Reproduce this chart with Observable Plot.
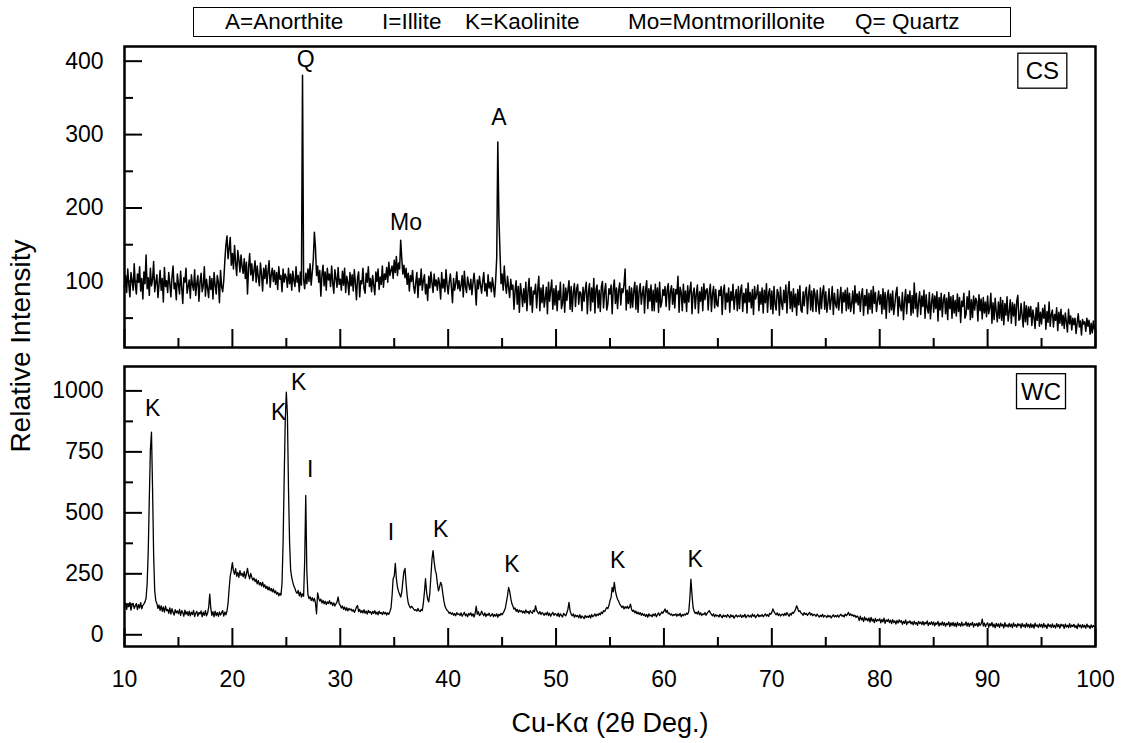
<!DOCTYPE html>
<html>
<head>
<meta charset="utf-8">
<script src="https://cdn.jsdelivr.net/npm/d3@7"></script>
<script src="https://cdn.jsdelivr.net/npm/@observablehq/plot@0.6"></script>
<style>
  body { margin: 0; background: #fff; }
  #page { position: relative; width: 1122px; height: 743px; overflow: hidden; background: #fff;
          font-family: "Liberation Sans", Arial, sans-serif; color: #000; }
  #legend { position: absolute; left: 193px; top: 7px; width: 818px; height: 30px;
            border: 1.5px solid #000; box-sizing: border-box; }
  #legend span { position: absolute; top: 0; line-height: 28px; font-size: 22.5px; white-space: pre; }
  #ytitle { position: absolute; left: 21px; top: 346px; transform: translate(-50%, -50%) rotate(-90deg);
            font-size: 28px; white-space: nowrap; }
  .panel { position: absolute; left: 0; }
  #topPanel { top: 40px; }
  #bottomPanel { top: 352px; }
</style>
</head>
<body>
<div id="page">
  <div id="legend"></div>
  <div id="ytitle"></div>
  <div id="topPanel" class="panel"></div>
  <div id="bottomPanel" class="panel"></div>
</div>
<script>
// ---------------- DATA ----------------
const legendItems = ["A=Anorthite", "I=Illite", "K=Kaolinite", "Mo=Montmorillonite", "Q= Quartz"];
const yTitle = "Relative Intensity";
const xTitle = "Cu-K\u03B1 (2\u03B8 Deg.)";

const xMajorTicks = [10, 20, 30, 40, 50, 60, 70, 80, 90, 100];
const xMinorTicks = [15, 25, 35, 45, 55, 65, 75, 85, 95];
const csYMajor = [100, 200, 300, 400];
const csYMinor = [50, 150, 250, 350];
const wcYMajor = [0, 250, 500, 750, 1000];
const wcYMinor = [125, 375, 625, 875];

const startDeg = 10;   // first row = 10°, each row = 1°, 10 readings per row
const stepDeg = 0.1;

// CS sample: relative intensity, one row per degree (10.0 .. 99.9)
const csRows = [
  [92,108,85,117,96,79,112,101,88,124],
  [95,83,110,99,120,87,104,76,113,97],
  [136,90,105,81,118,94,102,127,86,99],
  [109,78,96,115,88,104,72,119,93,101],
  [85,112,97,79,106,121,90,98,75,110],
  [96,83,114,92,70,105,99,118,84,93],
  [102,77,109,95,88,116,81,97,108,73],
  [99,111,86,94,120,80,103,91,78,107],
  [89,104,76,112,95,83,108,99,71,115],
  [93,86,101,128,150,162,131,145,160,122],
  [138,117,149,125,108,142,130,113,136,120],
  [111,131,104,126,83,119,138,109,124,101],
  [115,128,99,121,106,94,125,110,87,118],
  [104,122,97,113,128,92,109,118,100,115],
  [96,112,89,120,103,108,86,117,99,110],
  [105,92,118,97,110,88,114,101,93,120],
  [99,108,86,113,95,381,102,90,111,97],
  [117,100,124,95,112,130,167,146,108,121],
  [99,115,80,109,122,94,113,88,118,102],
  [110,93,121,98,84,116,104,92,119,96],
  [103,88,114,95,118,85,107,99,82,112],
  [94,109,87,116,98,75,105,113,79,101],
  [97,118,90,84,111,99,120,93,104,86],
  [108,95,82,113,100,117,89,106,96,121],
  [92,110,103,119,99,126,108,115,121,104],
  [129,112,134,108,125,117,156,131,110,122],
  [105,118,96,111,87,108,100,115,93,84],
  [99,112,78,104,95,117,88,101,109,83],
  [96,74,107,91,113,98,85,110,94,102],
  [88,105,97,76,112,91,103,86,116,95],
  [83,99,110,92,71,104,88,97,113,90],
  [101,87,95,108,79,114,93,85,106,96],
  [89,103,82,98,111,94,68,102,90,107],
  [95,84,100,112,87,97,80,109,91,99],
  [86,105,93,79,101,132,290,188,142,97],
  [110,88,121,96,84,107,92,78,103,89],
  [95,62,88,101,69,93,58,97,84,66],
  [90,71,99,60,86,104,68,92,58,87],
  [83,96,64,89,107,60,91,71,95,65],
  [77,92,56,99,73,88,102,62,90,68],
  [94,60,87,75,99,63,70,96,58,91],
  [74,88,101,62,93,59,85,97,66,89],
  [96,69,86,84,60,92,73,88,99,56],
  [85,97,60,91,72,104,57,89,95,64],
  [88,59,93,100,64,86,97,61,69,90],
  [83,95,56,89,102,70,91,63,87,98],
  [68,90,85,96,117,61,88,70,93,64],
  [91,65,87,99,62,94,58,86,97,69],
  [84,93,57,89,101,63,90,73,95,60],
  [88,60,96,72,91,58,99,65,72,89],
  [81,93,66,88,97,61,86,94,69,90],
  [64,89,83,107,58,92,85,60,96,71],
  [87,59,94,72,88,99,56,84,91,63],
  [83,95,57,86,73,92,60,97,75,88],
  [90,61,85,96,59,83,93,64,89,68],
  [66,88,81,93,55,87,95,62,84,72],
  [91,58,86,74,96,62,79,89,60,93],
  [63,87,95,59,84,71,90,57,98,72],
  [85,64,89,55,93,76,83,95,60,86],
  [69,91,57,88,71,97,58,84,90,62],
  [87,56,93,69,61,89,84,54,92,70],
  [62,88,71,95,57,85,100,63,86,59],
  [90,65,83,54,89,68,94,61,58,86],
  [67,85,92,56,82,95,61,87,59,90],
  [83,59,88,70,56,91,63,85,94,62],
  [86,58,71,90,62,75,93,55,84,69],
  [64,89,61,77,92,57,85,72,88,60],
  [91,63,84,59,70,87,56,94,71,83],
  [68,86,59,82,90,54,81,67,89,56],
  [84,62,88,57,93,70,85,59,73,87],
  [69,82,56,90,62,85,50,80,88,58],
  [83,61,87,55,68,84,92,53,79,66],
  [60,85,48,74,89,56,82,71,87,54],
  [81,57,98,63,84,52,72,86,55,80],
  [66,88,50,82,64,57,85,49,71,83],
  [58,80,63,86,46,78,61,84,52,75],
  [82,56,77,48,85,63,79,50,81,57],
  [74,53,83,59,78,44,73,66,84,50],
  [55,79,62,87,48,75,51,80,61,77],
  [73,46,82,60,76,49,78,57,72,52],
  [80,56,64,84,43,71,48,77,59,45],
  [72,50,78,47,74,41,70,54,79,46],
  [58,75,43,71,53,69,40,73,81,47],
  [49,70,54,38,72,45,67,41,65,52],
  [66,40,61,51,36,64,47,71,39,58],
  [42,63,50,68,35,59,44,72,39,55],
  [61,38,55,47,64,33,58,43,62,40],
  [54,36,57,45,31,62,42,53,34,50],
  [41,50,29,44,56,38,46,27,48,42],
  [45,32,50,39,47,28,43,30,46,35]
];
const csLast = 38; // at 100°

// WC sample: relative intensity, one row per degree (10.0 .. 99.9)
const wcRows = [
  [112,131,104,127,115,133,101,122,129,108],
  [119,128,103,124,110,132,106,121,127,135],
  [150,210,340,560,760,831,600,330,180,140],
  [128,108,122,100,119,96,114,93,117,99],
  [104,88,110,85,107,92,81,103,90,98],
  [86,104,80,99,91,76,101,84,95,79],
  [97,78,93,83,100,75,89,96,77,92],
  [85,98,74,93,80,99,78,88,112,167],
  [108,80,95,74,97,79,91,76,94,81],
  [90,99,77,93,82,98,130,190,240,265],
  [296,262,248,271,240,256,235,263,244,252],
  [238,259,231,250,272,245,229,252,236,224],
  [233,218,228,209,222,205,214,200,216,196],
  [205,190,199,184,196,181,190,176,188,172],
  [180,166,174,160,170,162,210,380,640,880],
  [995,900,600,380,265,235,215,200,190,176],
  [170,182,160,175,155,168,158,300,571,260],
  [165,148,156,140,152,138,149,131,86,172],
  [150,138,146,130,141,127,138,124,135,128],
  [140,126,133,120,131,118,127,135,155,128],
  [121,110,118,104,114,100,111,98,108,102],
  [106,97,103,92,101,114,120,95,104,91],
  [99,90,103,88,97,85,100,91,95,84],
  [96,88,99,85,93,82,97,87,91,83],
  [94,86,92,81,90,84,95,110,160,230],
  [240,293,230,195,178,166,155,175,220,260],
  [272,210,160,130,118,110,117,112,105,100],
  [103,97,108,99,95,104,99,130,175,230],
  [175,145,135,170,240,310,345,300,265,250],
  [210,180,195,215,205,170,140,118,108,100],
  [96,88,92,84,90,80,87,78,91,83],
  [86,79,90,76,84,92,78,85,74,88],
  [81,90,77,86,73,88,117,84,95,79],
  [83,97,86,78,90,75,85,80,89,76],
  [80,87,74,83,77,86,72,84,79,88],
  [82,90,98,110,135,160,194,178,150,128],
  [118,105,110,96,104,92,101,95,99,90],
  [97,88,102,91,96,86,99,93,88,101],
  [95,119,100,92,86,95,83,91,87,80],
  [89,82,93,79,88,76,85,92,80,87],
  [84,77,89,74,86,80,73,88,82,78],
  [90,105,133,98,84,78,86,72,81,75],
  [79,70,82,68,77,73,66,79,71,76],
  [72,80,69,83,74,78,86,76,84,80],
  [88,82,93,87,99,95,104,112,108,120],
  [140,153,194,176,215,180,160,145,138,126],
  [120,112,118,106,115,109,117,108,113,126],
  [104,96,101,90,97,86,93,84,91,80],
  [88,79,85,75,83,72,86,77,81,74],
  [85,78,87,74,82,90,79,86,94,88],
  [97,106,92,100,86,89,81,85,78,83],
  [80,86,76,84,79,88,74,83,78,85],
  [81,89,84,95,150,228,165,112,96,88],
  [92,85,97,82,90,79,86,83,91,80],
  [88,94,99,90,84,78,86,74,82,77],
  [80,73,84,76,70,81,75,79,72,83],
  [77,70,82,74,79,68,76,81,73,78],
  [75,82,71,79,74,84,70,77,81,73],
  [79,72,85,76,81,70,78,84,74,80],
  [76,83,74,80,86,77,82,75,88,84],
  [92,106,95,88,82,90,79,86,77,83],
  [85,78,88,80,91,83,76,87,81,92],
  [88,96,104,119,108,95,99,89,86,80],
  [91,83,88,79,86,92,81,87,78,84],
  [82,76,85,78,73,80,75,84,72,79],
  [77,71,80,74,78,69,76,82,73,79],
  [74,81,72,79,84,76,80,73,85,78],
  [83,92,80,86,78,82,75,80,71,77],
  [72,58,76,61,70,54,73,60,67,57],
  [69,52,71,56,64,50,67,55,62,58],
  [66,49,63,53,68,47,61,55,64,50],
  [60,46,62,50,57,44,59,48,61,52],
  [58,43,55,47,61,42,54,49,57,45],
  [53,41,56,44,50,39,55,46,52,42],
  [55,40,51,45,57,38,50,43,54,41],
  [52,37,49,43,55,36,48,40,53,39],
  [50,35,47,41,53,34,49,38,51,36],
  [48,33,51,39,46,35,52,37,45,40],
  [53,36,49,34,47,40,51,32,46,38],
  [47,34,50,38,45,64,36,48,33,44],
  [49,31,46,37,51,33,44,29,47,35],
  [45,30,48,36,43,28,50,34,41,32],
  [47,33,44,29,49,35,42,31,46,37],
  [44,28,47,34,41,30,48,33,43,29],
  [46,31,42,27,48,35,40,30,45,33],
  [43,29,47,32,40,26,45,34,41,30],
  [45,31,39,28,46,33,42,27,44,36],
  [41,26,44,32,39,29,46,31,40,34],
  [43,30,38,25,45,33,40,28,42,31],
  [39,27,44,32,37,26,41,30,38,33]
];
const wcLast = 35; // at 100°

// Peak labels: label, 2θ position, intensity at label baseline
const csLabelText = ["Q", "Mo", "A"];
const csLabelX = [26.8, 36.1, 44.7];
const csLabelY = [392, 170, 313];

const wcLabelText = ["K", "K", "K", "I", "I", "K", "K", "K", "K"];
const wcLabelX = [12.6, 24.3, 26.15, 27.2, 34.7, 39.3, 45.9, 55.7, 62.9];
const wcLabelY = [896, 880, 1003, 645, 389, 400, 256, 275, 279];

const csTag = "CS";
const wcTag = "WC";

// ---------------- BUILD TABLES ----------------
function toSeries(rows, last) {
  const out = [];
  rows.forEach((row, k) => row.forEach((v, j) => out.push({x: +(startDeg + k + j * stepDeg).toFixed(2), y: v})));
  out.push({x: startDeg + rows.length, y: last});
  return out;
}
const csData = toSeries(csRows, csLast);
const wcData = toSeries(wcRows, wcLast);
const csLabels = csLabelText.map((t, i) => ({t, x: csLabelX[i], y: csLabelY[i]}));
const wcLabels = wcLabelText.map((t, i) => ({t, x: wcLabelX[i], y: wcLabelY[i]}));

// ---------------- LAYOUT ----------------
const FONT = '"Liberation Sans", Arial, Helvetica, sans-serif';
const legend = document.getElementById("legend");
const legendLeft = [31, 188, 271, 434, 661];
legendItems.forEach((t, i) => {
  const s = document.createElement("span");
  s.textContent = t;
  s.style.left = legendLeft[i] + "px";
  legend.appendChild(s);
});
document.getElementById("ytitle").textContent = yTitle;

const blank = () => "";
const plain = d => String(d);
function tickMarks(yMajor, yMinor) {
  return [
    Plot.axisX(xMajorTicks, {anchor: "bottom", tickSize: 18, dy: -18, tickFormat: blank, strokeWidth: 2, label: null}),
    Plot.axisX(xMinorTicks, {anchor: "bottom", tickSize: 9, dy: -9, tickFormat: blank, strokeWidth: 2, label: null}),
    Plot.axisY(yMajor, {anchor: "left", tickSize: 18, dx: 18, tickFormat: blank, strokeWidth: 2, label: null}),
    Plot.axisY(yMinor, {anchor: "left", tickSize: 9, dx: 9, tickFormat: blank, strokeWidth: 2, label: null}),
    Plot.axisY(yMajor, {anchor: "left", tickSize: 0, tickPadding: 21, tickFormat: plain, label: null, fontSize: 23})
  ];
}

const topPlot = Plot.plot({
  width: 1122, height: 312,
  marginLeft: 124, marginRight: 27, marginTop: 6, marginBottom: 5,
  x: {domain: [10, 100]},
  y: {domain: [10, 420]},
  style: {fontFamily: FONT, fontSize: "23px", color: "#000", background: "transparent", overflow: "visible"},
  marks: [
    Plot.line(csData, {x: "x", y: "y", stroke: "#000", strokeWidth: 1.5}),
    ...tickMarks(csYMajor, csYMinor),
    Plot.frame({stroke: "#000", strokeWidth: 2.5}),
    Plot.text(csLabels, {x: "x", y: "y", text: "t", lineAnchor: "bottom", fontSize: 23}),
    Plot.text([csTag], {frameAnchor: "top-right", text: d => d, dx: -36.5, dy: 25, lineAnchor: "middle", fontSize: 24})
  ]
});

const bottomPlot = Plot.plot({
  width: 1122, height: 391,
  marginLeft: 124, marginRight: 27, marginTop: 14, marginBottom: 97,
  x: {domain: [10, 100]},
  y: {domain: [-48, 1100]},
  style: {fontFamily: FONT, fontSize: "23px", color: "#000", background: "transparent", overflow: "visible"},
  marks: [
    Plot.line(wcData, {x: "x", y: "y", stroke: "#000", strokeWidth: 1.3}),
    ...tickMarks(wcYMajor, wcYMinor),
    Plot.axisX(xMajorTicks, {anchor: "bottom", tickSize: 0, tickPadding: 24, tickFormat: plain, label: null, fontSize: 23}),
    Plot.frame({stroke: "#000", strokeWidth: 2.5}),
    Plot.text(wcLabels, {x: "x", y: "y", text: "t", lineAnchor: "bottom", fontSize: 23}),
    Plot.text([wcTag], {frameAnchor: "top-right", text: d => d, dx: -34.5, dy: 25.5, lineAnchor: "middle", fontSize: 24}),
    Plot.text([xTitle], {frameAnchor: "bottom", text: d => d, dy: 77, lineAnchor: "middle", fontSize: 27})
  ]
});

document.getElementById("topPanel").appendChild(topPlot);
document.getElementById("bottomPanel").appendChild(bottomPlot);

// draw boxes around the panel tags
function boxTag(svg, tag) {
  const t = Array.from(svg.querySelectorAll("text")).find(e => e.textContent === tag);
  if (!t) return;
  const b = t.getBBox();
  const cx = b.x + b.width / 2, cy = b.y + b.height / 2;
  const r = document.createElementNS("http://www.w3.org/2000/svg", "rect");
  r.setAttribute("x", cx - 24.5);
  r.setAttribute("y", cy - 17.5);
  r.setAttribute("width", 49);
  r.setAttribute("height", 35);
  r.setAttribute("fill", "none");
  r.setAttribute("stroke", "#000");
  r.setAttribute("stroke-width", 1.3);
  const tr = t.getAttribute("transform");
  if (tr) r.setAttribute("transform", tr);
  t.parentNode.insertBefore(r, t);
}
boxTag(topPlot, csTag);
boxTag(bottomPlot, wcTag);
</script>
</body>
</html>
